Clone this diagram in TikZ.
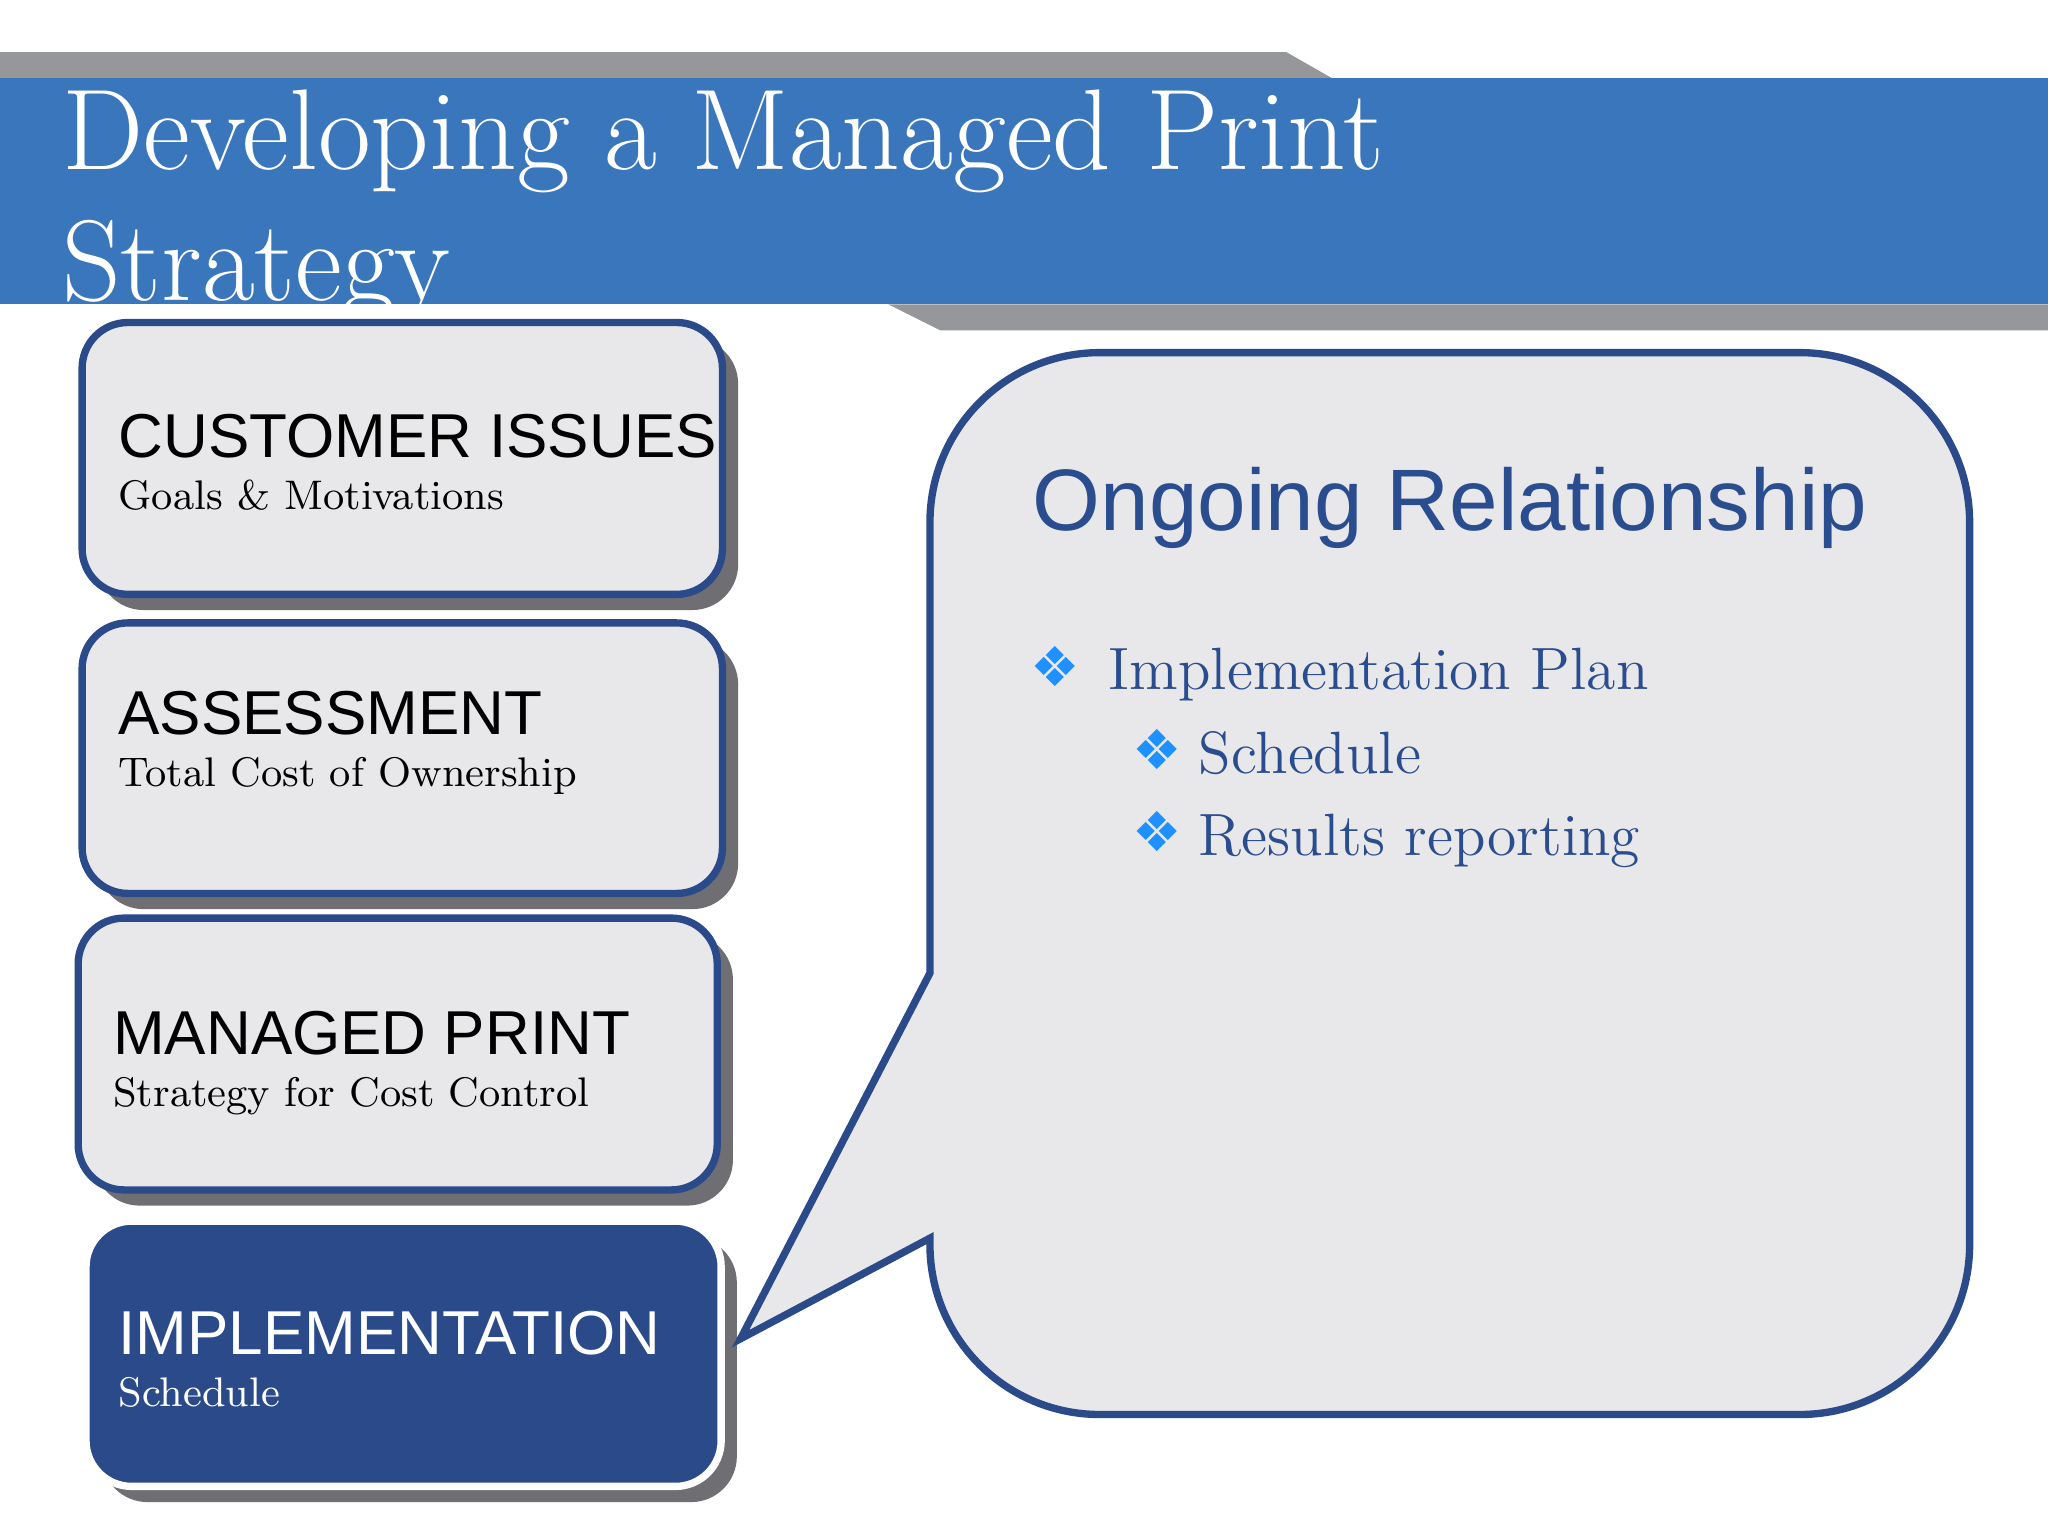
\documentclass[tikz,border=0pt]{standalone}
\usepackage{fontspec}
\newfontfamily\arial{Liberation Sans}
\newfontfamily\dejavu{DejaVu Sans}
\usetikzlibrary{shadows}
\definecolor{band}{HTML}{3A76BC}
\definecolor{bgray}{HTML}{96979B}
\definecolor{navy}{HTML}{2A4A8A}
\definecolor{boxfill}{HTML}{E8E8EA}
\definecolor{shgray}{HTML}{6E6E73}
\definecolor{bul}{HTML}{1E90FF}
\definecolor{txtblue}{HTML}{2A4D8F}
\tikzset{
  box/.style={draw=navy, line width=1.6pt, fill=boxfill, rounded corners=0.35cm, inner sep=0,
    general shadow={fill=shgray, shadow xshift=0.12cm, shadow yshift=-0.12cm}},
  head/.style={anchor=base west, font=\arial\fontsize{13.5}{15}\selectfont, inner sep=0},
  sub/.style={anchor=base west, font=\fontsize{9}{11}\selectfont, inner sep=0},
  btext/.style={anchor=base west, font=\fontsize{13}{15}\selectfont, text=txtblue, inner sep=0},
  bmark/.style={font=\dejavu\fontsize{12}{14}\selectfont, text=bul, inner sep=0}
}
\begin{document}
\begin{tikzpicture}[x=0.01cm,y=0.01cm]
\useasboundingbox (0,0) rectangle (1568,1176);
\fill[white] (0,0) rectangle (1568,1176);
% bands
\fill[bgray] (0,1136) -- (985,1136) -- (1020,1116) -- (0,1116) -- cycle;
\fill[bgray] (680,943) -- (720,923) -- (1568,923) -- (1568,943) -- cycle;
\fill[band] (0,1116) rectangle (1568,943);
\begin{scope}
\clip (0,1116) rectangle (1568,943);
\node[anchor=base west, text=white, font=\fontsize{25}{30}\selectfont, inner sep=0] (title1) at (47,1046) {Developing a Managed Print};
\node[anchor=base west, text=white, font=\fontsize{25}{30}\selectfont, inner sep=0] (title2) at (47,946) {Strategy};
\end{scope}
% boxes
\node[box, minimum width=4.90cm, minimum height=2.08cm] (b1) at (308,825) {};
\node[box, minimum width=4.90cm, minimum height=2.07cm] (b2) at (308,595.5) {};
\node[box, minimum width=4.89cm, minimum height=2.08cm] (b3) at (304.5,369) {};
\node[box, fill=navy, draw=white, minimum width=4.86cm, minimum height=2.03cm] (b4) at (309,139.5) {};
\node[head] (h1) at (90,826) {CUSTOMER ISSUES};
\node[sub] (s1) at (90,786) {Goals \& Motivations};
\node[head] (h2) at (90,614) {ASSESSMENT};
\node[sub] (s2) at (90,574) {Total Cost of Ownership};
\node[head] (h3) at (86,369) {MANAGED PRINT};
\node[sub] (s3) at (86,329) {Strategy for Cost Control};
\node[head, text=white] (h4) at (90,139) {IMPLEMENTATION};
\node[sub, text=white] (s4) at (90,99) {Schedule};
% callout
\draw[navy, line width=1.6pt, fill=boxfill] (567,151) -- (712,431) -- (712,776)
  arc[start angle=180,end angle=90,radius=130] -- (1378,906)
  arc[start angle=90,end angle=0,radius=130] -- (1508,223)
  arc[start angle=0,end angle=-90,radius=130] -- (842,93)
  arc[start angle=270,end angle=180,radius=130] -- (712,228) -- cycle;
\node[anchor=base west, inner sep=0, font=\arial\fontsize{19}{22}\selectfont, text=txtblue] (ongo) at (790,770) {Ongoing Relationship};
\node[bmark] (m1) at (808,666) {❖};
\node[btext] (t1) at (848,648) {Implementation Plan};
\node[bmark] (m2) at (886,602) {❖};
\node[btext] (t2) at (917,584) {Schedule};
\node[bmark] (m3) at (886,539) {❖};
\node[btext] (t3) at (917,521) {Results reporting};
\end{tikzpicture}
\end{document}
